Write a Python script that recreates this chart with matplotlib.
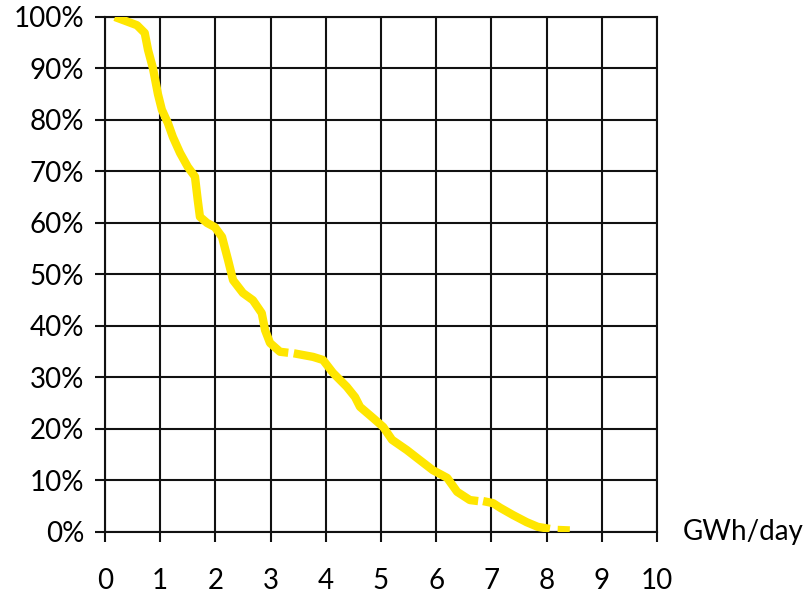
import matplotlib
matplotlib.use("Agg")
import matplotlib.pyplot as plt
import numpy as np
from matplotlib.ticker import PercentFormatter

plt.rcParams['font.family'] = ['Lato', 'DejaVu Sans']

# duration curve (nan = gap in the data)
energy = [0.18, 0.33, 0.58, 0.72, 0.78, 0.87, 0.96, 1.03, 1.14, 1.23, 1.36, 1.50,
          1.63, 1.68, 1.72, 1.85, 1.99, 2.12, 2.23, 2.32, 2.50, 2.68, 2.84, 2.90,
          2.99, 3.17, 3.32, np.nan, 3.42, 3.77, 3.95, 4.13, 4.38, 4.53, 4.62, 4.86,
          5.04, 5.20, 5.47, 5.65, 5.94, 6.20, 6.38, 6.61, 6.76, np.nan, 6.85, 7.03,
          7.16, 7.39, 7.64, 7.84, 8.06, np.nan, 8.20, 8.42]
share = [100, 99.4, 98.4, 96.9, 93.6, 90, 85, 82, 79.4, 76.7, 73.6, 70.9,
         69, 64.5, 61.2, 60, 59.2, 57.3, 52.8, 48.9, 46.4, 45, 42.5, 39.2,
         36.7, 35, 34.8, np.nan, 34.7, 34.0, 33.4, 30.9, 28.2, 26.2, 24.3, 22.1,
         20.4, 17.9, 15.9, 14.4, 12.0, 10.5, 7.8, 6.2, 6.0, np.nan, 6.0, 5.6,
         4.7, 3.3, 1.9, 1.0, 0.6, np.nan, 0.4, 0.3]

x_ticks = list(range(0, 11))
y_ticks = list(range(0, 101, 10))

fig = plt.figure(figsize=(8.1, 5.96), dpi=100)
ax = fig.add_axes([0.1296, 0.1074, 0.6815, 0.8641])

ax.plot(energy, share, color='#FFE600', lw=6, solid_capstyle='butt',
        solid_joinstyle='round', zorder=3)

ax.set_xlim(0, 10)
ax.set_ylim(0, 100)
ax.set_xticks(x_ticks)
ax.set_yticks(y_ticks)
ax.yaxis.set_major_formatter(PercentFormatter(decimals=0))

ax.grid(True, color='#111111', lw=1.5)
ax.set_axisbelow(True)
for s in ax.spines.values():
    s.set_color('#111111')
    s.set_linewidth(1.5)

ax.tick_params(direction='out', length=7, width=1.5, labelsize=20, color='#111111')
ax.tick_params(axis='x', pad=19)
ax.tick_params(axis='y', pad=8)

ax.set_xlabel('GWh/day', fontsize=20, ha='left', va='center')
ax.xaxis.set_label_coords(1.047, 0)

fig.savefig('out.png', dpi=100)
